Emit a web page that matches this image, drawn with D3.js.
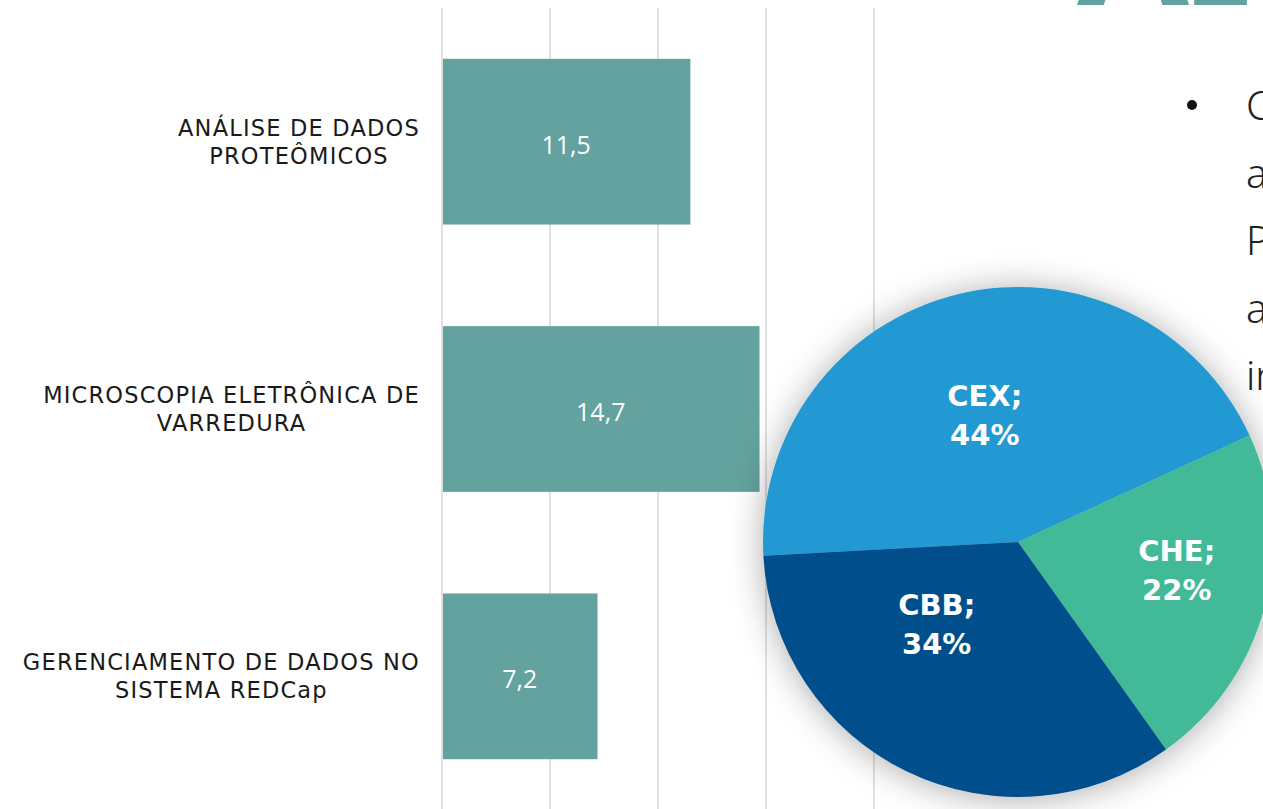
<!DOCTYPE html>
<html>
<head>
<meta charset="utf-8">
<script src="https://cdn.jsdelivr.net/npm/d3@7"></script>
<style>
  html, body { margin: 0; padding: 0; background: #fff; overflow: hidden; }
  svg { display: block; }
  .grid line { stroke: #d9d9d9; stroke-width: 1.6; }
  .cat { font-family: "DejaVu Sans", sans-serif; font-size: 22.5px; fill: #1a1a1a; letter-spacing: 1.2px; }
  .val { font-family: "Open Sans", sans-serif; font-size: 25px; fill: #fff; }
  .slice-label { font-family: "DejaVu Sans", sans-serif; font-weight: bold; font-size: 29px; fill: #fff; }
  .side { font-family: "Noto Sans", sans-serif; font-size: 40px; fill: #222; font-weight: 300; }
</style>
</head>
<body>
<div id="chart"></div>
<script>
const width = 1263;
const height = 809;

// Barras: cursos e horas
const categories = [
    ["ANÁLISE DE DADOS", "PROTEÔMICOS"],
    ["MICROSCOPIA ELETRÔNICA DE", "VARREDURA"],
    ["GERENCIAMENTO DE DADOS NO", "SISTEMA REDCap"]
];
const values = [11.5, 14.7, 7.2];
const xTicks = [0, 5, 10, 15, 20];

// Pizza: centros
const sliceNames = ["CEX", "CHE", "CBB"];
const slicePct = [44, 22, 34];
const sliceColors = ["#2399d2", "#43ba97", "#004f8c"];

// texto lateral (cortado pela borda)
const sideLines = ["C", "a", "P", "a", "ir"];

const fmt = v => String(v).replace(".", ",");

const svg = d3.select("#chart")
    .append("svg")
    .attr("width", width)
    .attr("height", height);

const defs = svg.append("defs");
const shadow = defs.append("filter")
    .attr("id", "shadow")
    .attr("x", "-30%").attr("y", "-30%")
    .attr("width", "160%").attr("height", "160%");
shadow.append("feDropShadow")
    .attr("dx", 0).attr("dy", 2)
    .attr("stdDeviation", 17)
    .attr("flood-color", "#000")
    .attr("flood-opacity", 0.33);

// --- título cortado no topo ---
svg.append("text")
    .attr("x", 1077)
    .attr("y", 5)
    .attr("font-family", "Noto Sans, sans-serif")
    .attr("font-weight", "bold")
    .attr("font-size", 162)
    .attr("fill", "#63a29e")
    .text("AI");

// --- gráfico de barras ---
const x = d3.scaleLinear().domain([0, 20]).range([442, 874]);
const y = d3.scaleBand()
    .domain(d3.range(values.length))
    .range([8, 810])
    .paddingInner(0.38)
    .paddingOuter(0.19);

svg.append("g").attr("class", "grid")
    .selectAll("line")
    .data(xTicks)
    .join("line")
    .attr("x1", d => x(d)).attr("x2", d => x(d))
    .attr("y1", 8).attr("y2", height);

svg.append("g")
    .selectAll("rect")
    .data(values)
    .join("rect")
    .attr("x", x(0) + 1)
    .attr("y", (d, i) => y(i))
    .attr("width", d => x(d) - x(0) - 1)
    .attr("height", y.bandwidth())
    .attr("fill", "#63a29e");

svg.append("g")
    .selectAll("text")
    .data(values)
    .join("text")
    .attr("class", "val")
    .attr("x", d => (x(0) + x(d)) / 2)
    .attr("y", (d, i) => y(i) + y.bandwidth() / 2 + 2)
    .attr("text-anchor", "middle")
    .attr("dominant-baseline", "central")
    .text(d => fmt(d));

// rótulos das categorias: centralizados, bloco alinhado à direita
const labelRight = 420;
const lineGap = 28;
const catG = svg.append("g");
categories.forEach((lines, i) => {
    const cy = y(i) + y.bandwidth() / 2;
    const t = catG.append("text")
        .attr("class", "cat")
        .attr("text-anchor", "middle")
        .attr("dominant-baseline", "central");
    t.selectAll("tspan")
        .data(lines)
        .join("tspan")
        .attr("x", 0)
        .attr("y", (d, j) => cy + (j - (lines.length - 1) / 2) * lineGap)
        .text(d => d);
    const w = d3.max(t.selectAll("tspan").nodes(), n => n.getComputedTextLength());
    t.selectAll("tspan").attr("x", labelRight - w / 2);
});

// --- texto lateral ---
svg.append("circle")
    .attr("cx", 1192).attr("cy", 105).attr("r", 5)
    .attr("fill", "#111");

svg.append("g")
    .selectAll("text")
    .data(sideLines)
    .join("text")
    .attr("class", "side")
    .attr("x", 1246)
    .attr("y", (d, i) => 120 + i * 67.5)
    .text(d => d);

// --- gráfico de pizza ---
const radius = 255;
const cx = 1018, cy = 542;
const startA = -93.1 * Math.PI / 180;

const pie = d3.pie()
    .sort(null)
    .value(d => d)
    .startAngle(startA)
    .endAngle(startA + 2 * Math.PI);

const arc = d3.arc().innerRadius(0).outerRadius(radius);
const arcs = pie(slicePct);

const pieG = svg.append("g")
    .attr("transform", `translate(${cx},${cy})`);

pieG.append("g")
    .attr("filter", "url(#shadow)")
    .selectAll("path")
    .data(arcs)
    .join("path")
    .attr("d", arc)
    .attr("fill", (d, i) => sliceColors[i]);

// posição dos rótulos: centróide com ajuste manual (como no Excel)
const labelR = [0.51, 0.62, 0.50];
const labelShift = [[-2, 0], [6, -12], [-26, -32]];

const lab = pieG.append("g")
    .selectAll("text")
    .data(arcs)
    .join("text")
    .attr("class", "slice-label")
    .attr("text-anchor", "middle")
    .attr("transform", (d, i) => {
        const r = radius * labelR[i];
        const c = d3.arc().innerRadius(r).outerRadius(r).centroid(d);
        return `translate(${c[0] + labelShift[i][0]},${c[1] + labelShift[i][1]})`;
    });

lab.append("tspan")
    .attr("x", 0).attr("y", -10)
    .text((d, i) => sliceNames[i] + ";");
lab.append("tspan")
    .attr("x", 0).attr("y", 29)
    .text((d, i) => slicePct[i] + "%");
</script>
</body>
</html>
